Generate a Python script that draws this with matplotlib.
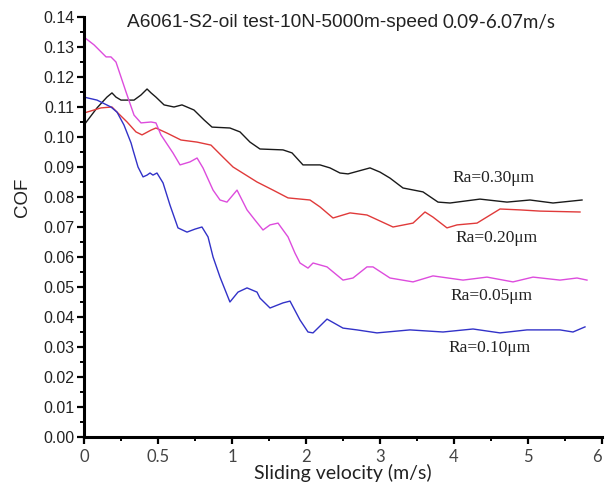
import numpy as np
import matplotlib
matplotlib.use("Agg")
import matplotlib.pyplot as plt
from matplotlib.ticker import FixedLocator, FixedFormatter

# ---- data ----
black_x = [0, 0.088, 0.155, 0.189, 0.216, 0.25, 0.338, 0.385, 0.426, 0.453, 0.486, 0.541, 0.608,
           0.662, 0.743, 0.811, 0.865, 0.986, 1.108, 1.243, 1.378, 1.689, 1.811, 1.959, 2.189,
           2.324, 2.459, 2.568, 2.865, 3.0, 3.135, 3.311, 3.581, 3.784, 3.946, 4.351, 4.716,
           5.027, 5.338, 5.730]
black_y = [0.104, 0.1097, 0.1133, 0.1147, 0.1133, 0.1123, 0.1123, 0.114, 0.116, 0.1147, 0.1133,
           0.1107, 0.110, 0.1107, 0.109, 0.1057, 0.1033, 0.103, 0.1017, 0.0983, 0.096, 0.0957,
           0.0947, 0.0907, 0.0907, 0.0897, 0.088, 0.0877, 0.0897, 0.0883, 0.0863, 0.083,
           0.0817, 0.0783, 0.078, 0.0793, 0.0783, 0.079, 0.078, 0.079]

red_x = [0, 0.115, 0.189, 0.223, 0.291, 0.351, 0.392, 0.453, 0.486, 0.561, 0.655, 0.764, 0.858,
         0.939, 1.014, 1.338, 1.554, 1.757, 2.054, 2.189, 2.365, 2.595, 2.824, 3.176, 3.446,
         3.608, 3.716, 3.905, 4.041, 4.311, 4.622, 4.892, 5.162, 5.703]
red_y = [0.108, 0.1097, 0.110, 0.1083, 0.105, 0.1017, 0.1007, 0.1023, 0.103, 0.1013, 0.099,
         0.0983, 0.0973, 0.0933, 0.090, 0.085, 0.0823, 0.0797, 0.079, 0.0767, 0.073, 0.0747,
         0.074, 0.070, 0.0713, 0.075, 0.0733, 0.0697, 0.0707, 0.0713, 0.076, 0.0757, 0.0753,
         0.075]

mag_x = [0, 0.068, 0.149, 0.182, 0.216, 0.284, 0.338, 0.385, 0.453, 0.486, 0.520, 0.601, 0.649,
         0.716, 0.764, 0.804, 0.872, 0.919, 0.966, 1.068, 1.203, 1.311, 1.419, 1.514, 1.622,
         1.757, 1.851, 1.919, 2.027, 2.095, 2.284, 2.5, 2.635, 2.824, 2.905, 3.135, 3.446,
         3.716, 4.122, 4.446, 4.797, 5.068, 5.432, 5.662, 5.797]
mag_y = [0.1333, 0.1307, 0.1267, 0.1267, 0.125, 0.115, 0.1073, 0.1047, 0.105, 0.1047, 0.1007,
         0.0947, 0.0907, 0.0917, 0.093, 0.0897, 0.0823, 0.079, 0.0783, 0.0823, 0.0757, 0.0723,
         0.069, 0.0707, 0.0713, 0.0667, 0.0613, 0.058, 0.0563, 0.058, 0.0567, 0.0523, 0.053,
         0.0567, 0.0567, 0.053, 0.0517, 0.0537, 0.0523, 0.0533, 0.0517, 0.0533, 0.0523, 0.053,
         0.0523]

blue_x = [0, 0.088, 0.182, 0.223, 0.270, 0.318, 0.331, 0.365, 0.399, 0.426, 0.446, 0.466, 0.493,
          0.534, 0.581, 0.635, 0.696, 0.75, 0.797, 0.838, 0.872, 0.919, 0.986, 1.081, 1.203,
          1.338, 1.378, 1.514, 1.689, 1.784, 1.919, 2.027, 2.095, 2.284, 2.5, 2.689, 2.959,
          3.405, 3.851, 4.257, 4.622, 4.986, 5.432, 5.608, 5.770]
blue_y = [0.1133, 0.1123, 0.110, 0.1083, 0.104, 0.098, 0.0957, 0.090, 0.0867, 0.0873, 0.088,
          0.0873, 0.088, 0.0847, 0.0773, 0.0697, 0.0683, 0.0693, 0.070, 0.0667, 0.060, 0.0533,
          0.045, 0.0483, 0.0497, 0.0483, 0.0463, 0.043, 0.0447, 0.0453, 0.039, 0.035, 0.0347,
          0.0393, 0.0363, 0.0357, 0.0347, 0.0357, 0.035, 0.036, 0.0347, 0.0357, 0.0357, 0.035,
          0.0367]

labels = ["Ra=0.30\u03bcm", "Ra=0.20\u03bcm", "Ra=0.05\u03bcm", "Ra=0.10\u03bcm"]
label_x = [4.527, 4.568, 4.50, 4.486]
label_y = [0.0863, 0.0663, 0.047, 0.0297]

x_ticks = [0, 0.5, 1, 2, 3, 4, 5, 6]
x_tick_labels = ["0", "0.5", "1", "2", "3", "4", "5", "6"]
y_ticks = [i / 100 for i in range(15)]
y_tick_labels = ["%.2f" % v for v in y_ticks]

# ---- figure ----
fig = plt.figure(figsize=(6.05, 4.88), dpi=100)
ax = fig.add_axes([84 / 605, 1 - 437 / 488, 518 / 605, 420 / 488])


def fwd(x):
    x = np.asarray(x, dtype=float)
    return np.where(x <= 1, 2 * x, x + 1)


def inv(t):
    t = np.asarray(t, dtype=float)
    return np.where(t <= 2, t / 2, t - 1)


ax.set_xscale("function", functions=(fwd, inv))

ax.plot(black_x, black_y, color="#1a1a1a", lw=1.0)
ax.plot(red_x, red_y, color="#e03a3a", lw=1.0)
ax.plot(mag_x, mag_y, color="#dd4cdd", lw=1.0)
ax.plot(blue_x, blue_y, color="#3232c8", lw=1.0)

for t, lx, ly in zip(labels, label_x, label_y):
    ax.text(lx, ly, t, ha="center", va="center", fontsize=12.5,
            family=["Liberation Serif", "DejaVu Serif"], color="#222222")

ax.text(0.29, 0.1383, "A6061-S2-oil test-10N-5000m-speed", ha="left", va="center",
        fontsize=13.8, family="Liberation Sans", color="#222222")
ax.text(3.851, 0.1383, "0.09-6.07m/s", ha="left", va="center",
        fontsize=13.5, family="Lato", color="#222222")

ax.set_xlim(0, 6)
ax.set_ylim(0, 0.14)

ax.xaxis.set_major_locator(FixedLocator(x_ticks))
ax.xaxis.set_major_formatter(FixedFormatter(x_tick_labels))
ax.xaxis.set_minor_locator(FixedLocator([0.25, 0.75, 1.5, 2.5, 3.5, 4.5, 5.5]))
ax.yaxis.set_major_locator(FixedLocator(y_ticks))
ax.yaxis.set_major_formatter(FixedFormatter(y_tick_labels))
ax.yaxis.set_minor_locator(FixedLocator([i / 100 + 0.005 for i in range(14)]))

for s in ["top", "right"]:
    ax.spines[s].set_visible(False)
for s in ["left", "bottom"]:
    ax.spines[s].set_linewidth(2.2)
    ax.spines[s].set_color("black")

ax.tick_params(axis="both", which="major", direction="out", length=5, width=1.6, color="black")
ax.tick_params(axis="both", which="minor", direction="out", length=3, width=1.4, color="black")
ax.tick_params(axis="y", which="major", labelsize=11.5, pad=2)
ax.tick_params(axis="x", which="major", labelsize=12, pad=4, labelcolor="#444444")
for lab in ax.get_yticklabels():
    lab.set_family("Liberation Sans")
    lab.set_color("#222222")
for lab in ax.get_xticklabels():
    lab.set_family("Lato")
ax.get_xticklabels()[-1].set_horizontalalignment("right")

ax.set_xlabel("Sliding velocity (m/s)", fontsize=14, family="Lato", color="#222222", labelpad=-1)
ax.set_ylabel("COF", fontsize=13.5, family="Liberation Sans", color="#222222")
ax.yaxis.set_label_coords(-0.102, (437 - 197) / 420)

fig.savefig("out.png", dpi=100)
